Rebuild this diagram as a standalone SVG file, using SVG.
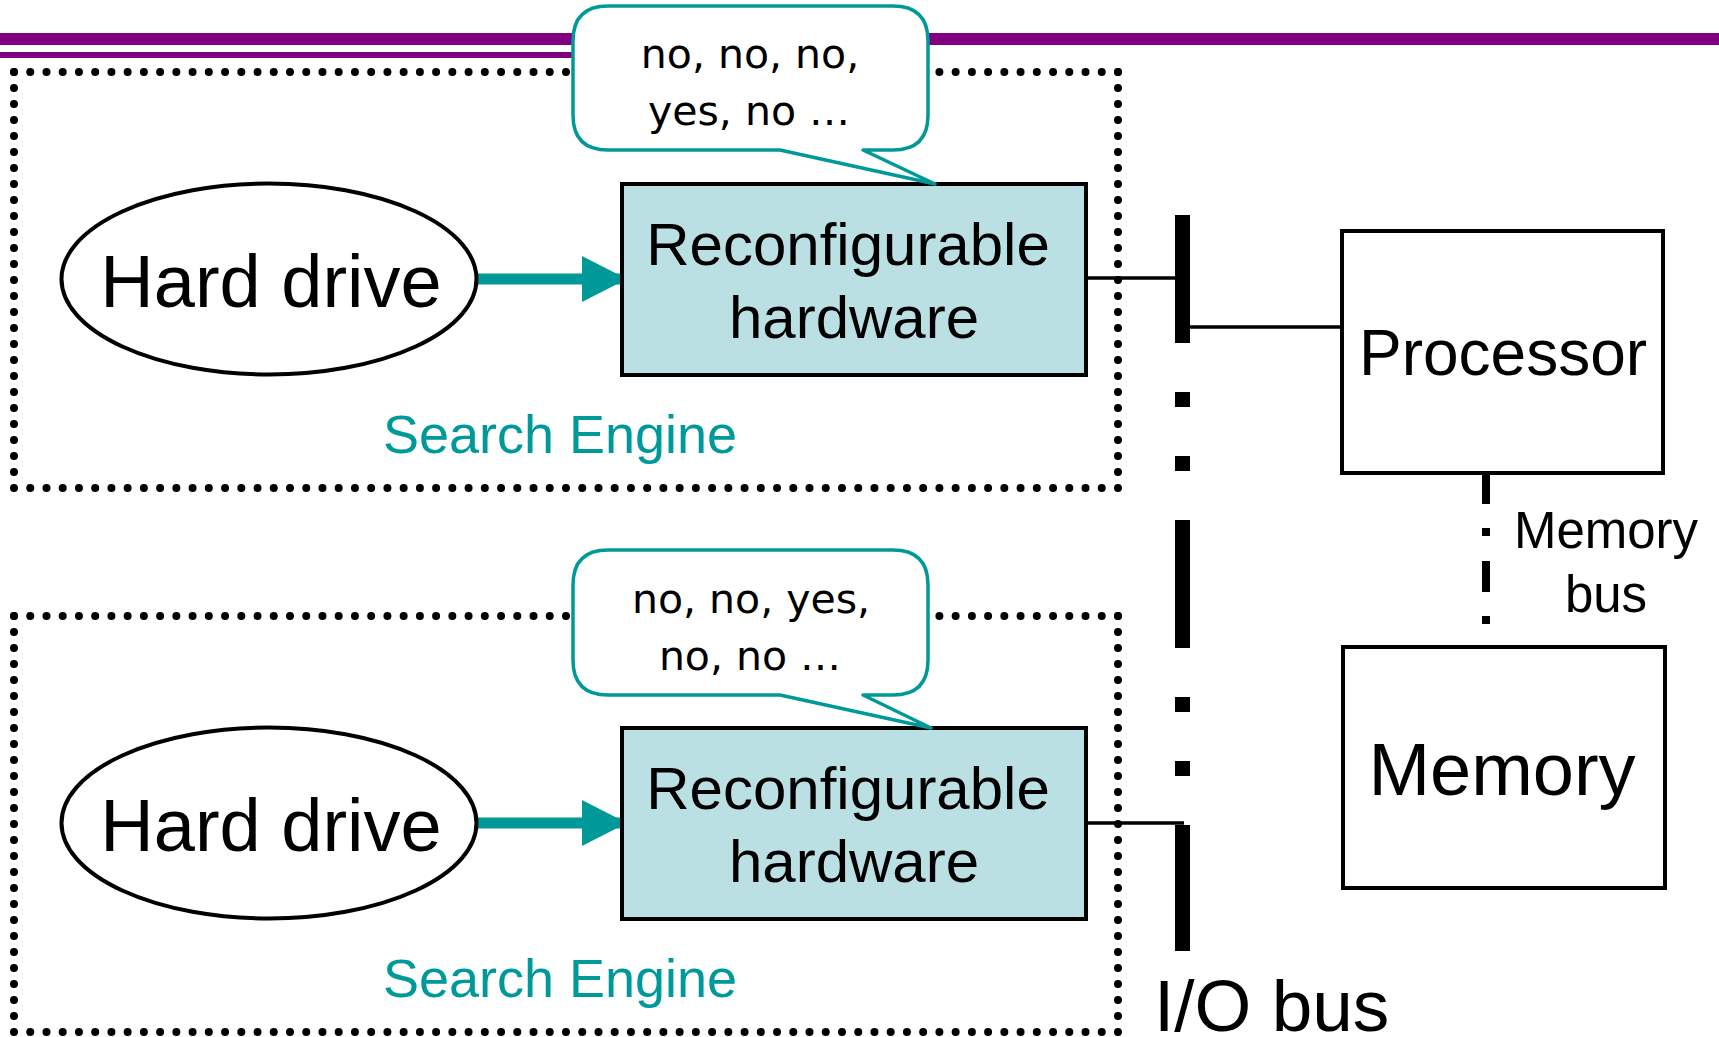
<svg xmlns="http://www.w3.org/2000/svg" width="1719" height="1037" viewBox="0 0 1719 1037">
<style>
.dot{stroke:#000;stroke-width:8;stroke-linecap:round;fill:none}
.hd{fill:#fff;stroke:#000;stroke-width:4}
.rh{fill:#bbe0e3;stroke:#000;stroke-width:4}
.box{fill:#fff;stroke:#000;stroke-width:4}
.bub{fill:#fff;stroke:#009999;stroke-width:3.5;stroke-linejoin:round}
.t{font-family:"Liberation Sans",Arial,sans-serif;fill:#000;text-anchor:middle}
.bt{font-family:"DejaVu Sans","Liberation Sans",sans-serif;font-size:41px;fill:#000;text-anchor:middle}
.se{font-family:"Liberation Sans",Arial,sans-serif;font-size:54px;fill:#009999;text-anchor:middle}
.wire{stroke:#000;stroke-width:3.5;fill:none}
.arr{stroke:#009999;stroke-width:11;fill:none}
</style>
<defs>
<marker id="ah" markerUnits="userSpaceOnUse" markerWidth="46" markerHeight="46" refX="45" refY="23" orient="auto" viewBox="0 0 46 46">
<path d="M0,0 L45,23 L0,46 Z" fill="#009999"/>
</marker>
</defs>
<rect width="1719" height="1037" fill="#fff"/>
<g id="header">
<rect x="0" y="33" width="1719" height="12" fill="#800080"/>
<rect x="0" y="52" width="620" height="6" fill="#800080"/>
</g>
<g id="engine1">
<line class="dot" x1="14" y1="72" x2="1118" y2="72" stroke-dasharray="0 16.235"/>
<line class="dot" x1="14" y1="488" x2="1118" y2="488" stroke-dasharray="0 16.235"/>
<line class="dot" x1="14" y1="72" x2="14" y2="488" stroke-dasharray="0 16"/>
<line class="dot" x1="1118" y1="72" x2="1118" y2="488" stroke-dasharray="0 16"/>
<text class="se" x="560" y="453">Search Engine</text>
</g>
<g id="engine2">
<line class="dot" x1="14" y1="616" x2="1118" y2="616" stroke-dasharray="0 16.235"/>
<line class="dot" x1="14" y1="1032" x2="1118" y2="1032" stroke-dasharray="0 16.235"/>
<line class="dot" x1="14" y1="616" x2="14" y2="1032" stroke-dasharray="0 16"/>
<line class="dot" x1="1118" y1="616" x2="1118" y2="1032" stroke-dasharray="0 16"/>
<text class="se" x="560" y="997">Search Engine</text>
</g>
<g id="connectors">
<line class="arr" x1="478" y1="279" x2="627" y2="279" marker-end="url(#ah)"/>
<line class="arr" x1="478" y1="823" x2="627" y2="823" marker-end="url(#ah)"/>
<line class="wire" x1="1087" y1="278" x2="1182" y2="278"/>
<line class="wire" x1="1182" y1="327" x2="1342" y2="327"/>
<line class="wire" x1="1087" y1="823" x2="1184" y2="823"/>
<line x1="1182.5" y1="215" x2="1182.5" y2="951" stroke="#000" stroke-width="15" stroke-dasharray="128 49 15 49 15 49"/>
<line x1="1486" y1="473" x2="1486" y2="624" stroke="#000" stroke-width="8" stroke-dasharray="31 24 8 25"/>
</g>
<g id="harddrive1">
<ellipse class="hd" cx="269" cy="279" rx="207.5" ry="95.5"/>
<text class="t" x="271" y="307" font-size="74">Hard drive</text>
</g>
<g id="harddrive2">
<ellipse class="hd" cx="269" cy="823" rx="207.5" ry="95.5"/>
<text class="t" x="271" y="851" font-size="74">Hard drive</text>
</g>
<g id="reconfig1">
<rect class="rh" x="622" y="184" width="464" height="191"/>
<text class="t" x="848" y="265" font-size="60">Reconfigurable</text>
<text class="t" x="854" y="338" font-size="60">hardware</text>
</g>
<g id="reconfig2">
<rect class="rh" x="622" y="728" width="464" height="191"/>
<text class="t" x="848" y="809" font-size="60">Reconfigurable</text>
<text class="t" x="854" y="882" font-size="60">hardware</text>
</g>
<g id="bubble1">
<path class="bub" d="M608,6 H893 Q928,6 928,41 V115 Q928,150 893,150 H863 L935,184 L780,150 H608 Q573,150 573,115 V41 Q573,6 608,6 Z"/>
<text class="bt" x="750" y="68">no, no, no,</text>
<text class="bt" x="749" y="125">yes, no …</text>
</g>
<g id="bubble2">
<path class="bub" d="M608,550 H893 Q928,550 928,585 V660 Q928,695 893,695 H863 L931,728 L780,695 H608 Q573,695 573,660 V585 Q573,550 608,550 Z"/>
<text class="bt" x="751" y="613">no, no, yes,</text>
<text class="bt" x="750" y="670">no, no …</text>
</g>
<g id="processor">
<rect class="box" x="1342" y="231" width="321" height="242"/>
<text class="t" x="1503" y="375" font-size="64">Processor</text>
</g>
<g id="memory">
<rect class="box" x="1343" y="647" width="322" height="241"/>
<text class="t" x="1502" y="795" font-size="74">Memory</text>
</g>
<g id="labels">
<text class="t" x="1606" y="548" font-size="51">Memory</text>
<text class="t" x="1606" y="612" font-size="51">bus</text>
<text class="t" x="1154" y="1031" font-size="73" style="text-anchor:start">I/O bus</text>
</g>
</svg>
